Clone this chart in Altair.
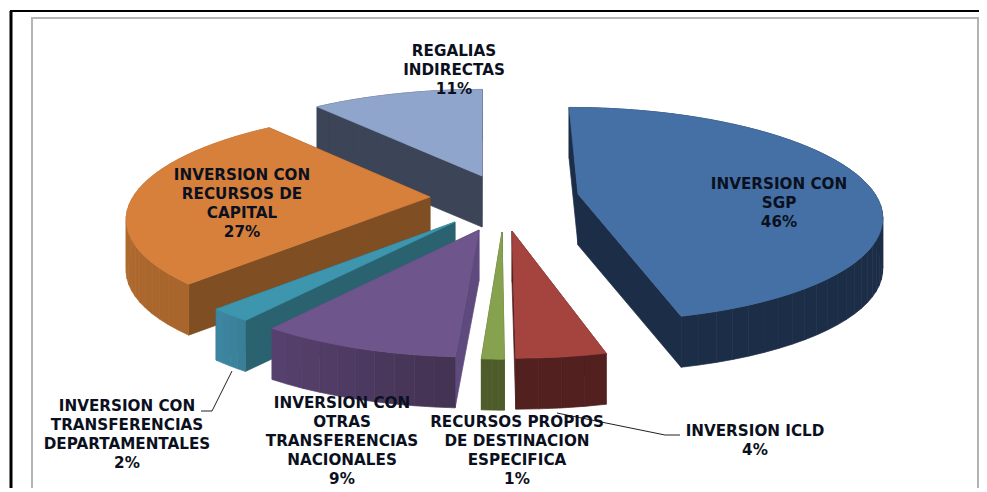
import math
import altair as alt
import pandas as pd

# ---------- chart values ----------
SHARES = [46, 4, 1, 9, 2, 27, 11]
LABELS = [
    "INVERSION CON\nSGP\n46%",
    "INVERSION  ICLD\n4%",
    "RECURSOS PROPIOS\nDE DESTINACION\nESPECIFICA\n1%",
    "INVERSION CON\nOTRAS\nTRANSFERENCIAS\nNACIONALES\n9%",
    "INVERSION CON\nTRANSFERENCIAS\nDEPARTAMENTALES\n2%",
    "INVERSION CON\nRECURSOS DE\nCAPITAL\n27%",
    "REGALIAS\nINDIRECTAS\n11%",
]

# ---------- styling / layout (separate from the values) ----------
TOP = ["#4470a5", "#a5443f", "#87a24e", "#6e558c", "#3e95ae", "#d6803c", "#8fa5cb"]
RIM_A = ["#1c2e47", "#52201f", "#4d5c2a", "#443353", "#3a7f98", "#a8652c", "#3c4557"]
RIM_B = ["#1c2e47", "#52201f", "#4d5c2a", "#584270", "#3d89a5", "#bb7433", "#3c4557"]
CUT = ["#1c2e47", "#52201f", "#4d5c2a", "#5f4a7e", "#2a6270", "#7f4e22", "#3c4557"]
APEX = [(578, 194), (512, 231), (502, 232), (479, 230), (455, 222), (430, 197), (482, 176)]
LABEL_XY = [(779, 184), (755, 431), (517, 422), (342, 403), (127, 406), (242, 175), (454, 51)]
DRAW_ORDER = [6, 5, 4, 3, 2, 1, 0]
RX, RY, PERSP, DEPTH, CX = 297, 103, 0.19, 51, 485
W, H = 971, 480


def project(apex, deg):
    a = math.radians(deg)
    u, v = math.sin(a), math.cos(a)
    s = 1 / (1 + PERSP * v)
    x = apex[0] + RX * u * s + 0.6 * (apex[0] - CX) * (s - 1)
    y = apex[1] - RY * v * s
    return x, y


def mix(c1, c2, t):
    a = [int(c1[i:i + 2], 16) for i in (1, 3, 5)]
    b = [int(c2[i:i + 2], 16) for i in (1, 3, 5)]
    return "#" + "".join(f"{round(p + (q - p) * t):02x}" for p, q in zip(a, b))


rows = []


def add(face, color, pts):
    pts = list(pts) + [pts[0]]
    for i, (x, y) in enumerate(pts):
        rows.append({"face": face, "c": color, "i": i, "x": x, "y": y})


starts, total = [], 0
for sh in SHARES:
    starts.append(total)
    total += sh

seq = 0
for k in DRAW_ORDER:
    a0 = starts[k] * 3.6
    a1 = (starts[k] + SHARES[k]) * 3.6
    ap = APEX[k]
    n = max(4, int((a1 - a0) / 3))
    rim = [project(ap, a0 + (a1 - a0) * j / n) for j in range(n + 1)]
    down = lambda p: (p[0], p[1] + DEPTH)
    add(f"{seq:02d}a", CUT[k], [ap, rim[0], down(rim[0]), down(ap)])
    add(f"{seq:02d}b", CUT[k], [ap, rim[-1], down(rim[-1]), down(ap)])
    for j in range(n):
        add(f"{seq:02d}c{j:03d}", mix(RIM_A[k], RIM_B[k], j / n),
            [rim[j], rim[j + 1], down(rim[j + 1]), down(rim[j])])
    add(f"{seq:02d}z", TOP[k], [ap] + rim)
    seq += 1

X = alt.X("x:Q", axis=None, scale=alt.Scale(domain=[8, 8 + W], nice=False, zero=False))
Y = alt.Y("y:Q", axis=None, scale=alt.Scale(domain=[8 + H, 8], nice=False, zero=False))

faces = (
    alt.Chart(pd.DataFrame(rows))
    .mark_line(strokeWidth=0.7, clip=False)
    .encode(
        x=X, y=Y,
        detail="face:N",
        fill=alt.Fill("c:N", scale=None),
        stroke=alt.Stroke("c:N", scale=None),
        order=alt.Order("i:Q"),
    )
)

# page border and chart border, as straight rules
border = pd.DataFrame(
    [
        dict(x=11, x2=11, y=11, y2=8 + H, c="#000000", w=3),
        dict(x=10, x2=8 + W, y=11, y2=11, c="#000000", w=2),
        dict(x=32, x2=32, y=18, y2=8 + H, c="#b4b4b4", w=2),
        dict(x=31, x2=8 + W, y=18, y2=18, c="#b4b4b4", w=2),
        dict(x=8 + W - 1, x2=8 + W - 1, y=18, y2=8 + H, c="#b4b4b4", w=2),
    ]
)
rules = (
    alt.Chart(border)
    .mark_rule(clip=False)
    .encode(
        x=X, x2="x2:Q", y=Y, y2="y2:Q",
        color=alt.Color("c:N", scale=None),
        strokeWidth=alt.StrokeWidth("w:Q", scale=None),
    )
)

leaders = pd.DataFrame(
    [
        dict(g="c", i=0, x=232, y=371, c="#222222"),
        dict(g="c", i=1, x=212, y=411, c="#222222"),
        dict(g="c", i=2, x=201, y=411, c="#222222"),
        dict(g="d", i=0, x=557, y=413, c="#222222"),
        dict(g="d", i=1, x=665, y=435, c="#222222"),
        dict(g="d", i=2, x=680, y=435, c="#222222"),
    ]
)
lines = (
    alt.Chart(leaders)
    .mark_line(clip=False, strokeWidth=1)
    .encode(
        x=X, y=Y, detail="g:N",
        color=alt.Color("c:N", scale=None),
        order=alt.Order("i:Q"),
    )
)

text_df = pd.DataFrame(
    {"t": LABELS, "x": [p[0] for p in LABEL_XY], "y": [p[1] for p in LABEL_XY]}
)
texts = (
    alt.Chart(text_df)
    .mark_text(
        font="DejaVu Sans", fontWeight="bold", fontSize=15.2, lineBreak="\n",
        lineHeight=19, align="center", baseline="middle", color="#0b1020",
    )
    .encode(x=X, y=Y, text="t:N")
)

chart = (
    alt.layer(rules, lines, faces, texts)
    .properties(width=W, height=H, padding=0, autosize=alt.AutoSizeParams(type="none"))
    .configure_view(stroke=None)
)
chart.save("out.html", embed_options={"renderer": "svg", "actions": False})
